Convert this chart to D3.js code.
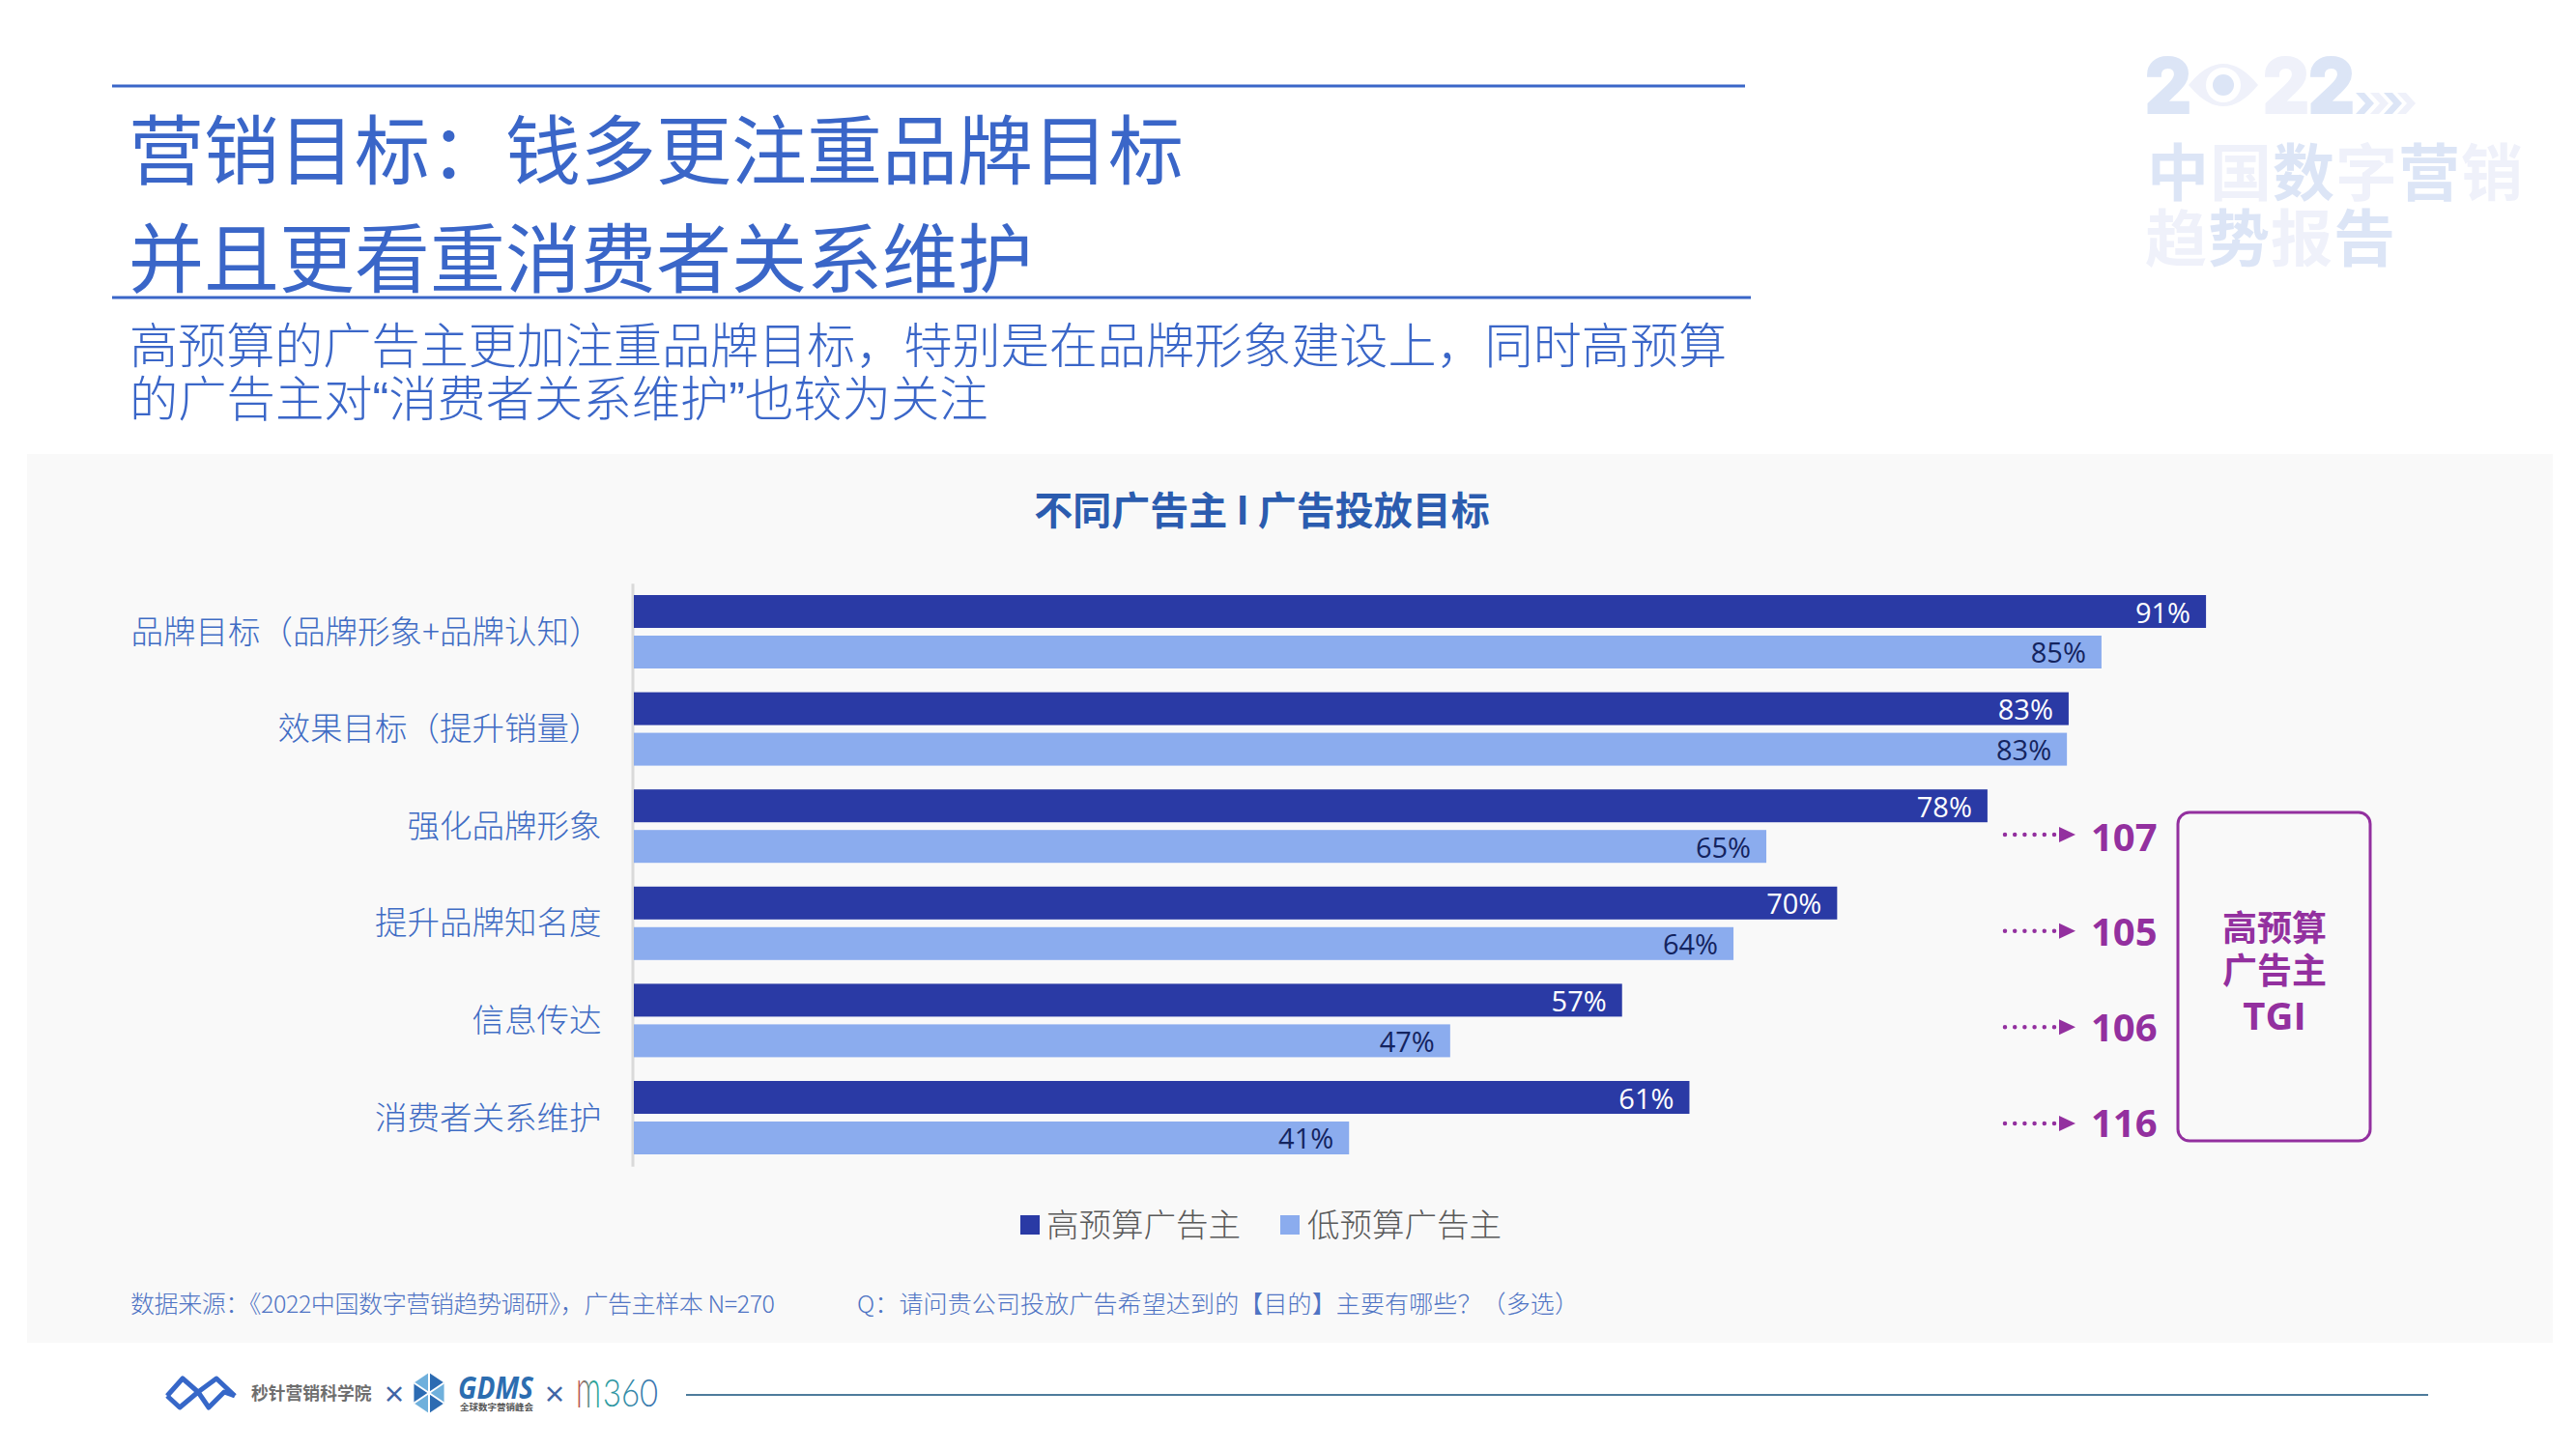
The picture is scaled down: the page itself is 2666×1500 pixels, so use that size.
<!DOCTYPE html>
<html><head><meta charset="utf-8">
<script src="https://cdn.jsdelivr.net/npm/d3@7/dist/d3.min.js"></script>
<style>
html,body{margin:0;padding:0;background:#fff}
svg{display:block}
text{font-family:"Noto Sans CJK SC","Noto Sans",sans-serif}
</style></head><body><svg id="c" width="2666" height="1500"></svg>
<script>
const categories=["品牌目标（品牌形象+品牌认知）","效果目标（提升销量）","强化品牌形象","提升品牌知名度","信息传达","消费者关系维护"];
const seriesNames=["高预算广告主","低预算广告主"];
const highValues=[91,83.05,78.35,69.65,57.2,61.1];
const lowValues=[84.95,82.95,65.55,63.65,47.25,41.4];
const highLabels=["91%","83%","78%","70%","57%","61%"];
const lowLabels=["85%","83%","65%","64%","47%","41%"];
const tgiCategories=["强化品牌形象","提升品牌知名度","信息传达","消费者关系维护"];
const tgiValues=[107,105,106,116];
const colors=["#2A3AA5","#8BACEE"];
const titleBlue="#3A66C8", purple="#93309F";

const svg=d3.select("#c");
const T=(x,y,s,size,fill,o={})=>svg.append("text").attr("x",x).attr("y",y).text(s)
  .attr("font-size",size).attr("fill",fill).attr("text-anchor",o.anchor||"start")
  .attr("font-weight",o.weight||400).attr("dominant-baseline","central")
  .attr("font-style",o.style||null).attr("stroke",o.stroke?fill:null).attr("stroke-width",o.stroke||null)
  .style("font-family",o.font||null).attr("textLength",o.len||null).attr("lengthAdjust",o.adj||null);

// panel
svg.append("rect").attr("x",28).attr("y",470).attr("width",2614).attr("height",920).attr("fill","#F9F9F9");

// header
[[116,1806,89],[116,1812,308]].forEach(l=>svg.append("line").attr("x1",l[0]).attr("x2",l[1]).attr("y1",l[2]).attr("y2",l[2]).attr("stroke",titleBlue).attr("stroke-width",3));
T(133,151,"营销目标：钱多更注重品牌目标",78,titleBlue);
T(133,263,"并且更看重消费者关系维护",78,titleBlue);
const mixed="'Liberation Sans','Noto Sans CJK SC'";
T(134,354,"高预算的广告主更加注重品牌目标，特别是在品牌形象建设上，同时高预算",50.1,titleBlue,{weight:300});
T(134,413,"的广告主对“消费者关系维护”也较为关注",50.3,titleBlue,{weight:300,font:mixed});

// watermark
const wm1="#DCE5F6", wm2="#EFF1FA";
T(2220,88,"2",76,wm1,{weight:700,font:"Inter",stroke:4});
svg.append("path").attr("d","M2265 88Q2301 44 2337 88Q2301 132 2265 88Z").attr("fill",wm2);
svg.append("circle").attr("cx",2301).attr("cy",88).attr("r",18).attr("fill","#fff");
svg.append("circle").attr("cx",2301).attr("cy",88).attr("r",11).attr("fill",wm1);
T(2342,88,"2",76,wm2,{weight:700,font:"Inter",stroke:4});
T(2389,88,"2",76,wm1,{weight:700,font:"Inter",stroke:4});
[2438,2453,2467,2481].forEach((x,i)=>svg.append("path").attr("d",`M${x} 96l9 0l10 11l-10 11l-9 0l10 -11Z`).attr("fill",i%2?wm2:wm1));
"中国数字营销".split("").forEach((c,i)=>T(2222+i*65,174,c,64,i%2?wm2:wm1,{weight:700}));
"趋势报告".split("").forEach((c,i)=>T(2220+i*65,242,c,64,i%2?wm1:wm2,{weight:700}));

// chart title
T(1306,526,"不同广告主 I 广告投放目标",40,"#2B5CAF",{weight:700,anchor:"middle"});

// scales
const x=d3.scaleLinear().domain([0,100]).range([656,2444]);
const y=d3.scaleBand().domain(categories).range([603.7,1207.3]).paddingInner(0.2445).paddingOuter(0.12225);
const y1=d3.scaleBand().domain(seriesNames).range([0,y.bandwidth()]).paddingInner(0.19);
const ax=d3.axisLeft(y).tickSize(0).tickPadding(32);
const axG=svg.append("g").attr("transform","translate(654.5,0)").call(ax);
axG.select(".domain").attr("stroke","#DADADA").attr("stroke-width",3);
axG.selectAll("text").attr("font-size",33.5).attr("fill","#3F6CC4").attr("font-weight",300).attr("dy",-3).attr("dominant-baseline","central")
  .style("font-family","'Noto Sans CJK SC'");

const rows=categories.map((c,i)=>({c,v:[highValues[i],lowValues[i]],l:[highLabels[i],lowLabels[i]]}));
const g=svg.selectAll("g.row").data(rows).join("g").attr("class","row").attr("transform",d=>`translate(0,${y(d.c)})`);
g.selectAll("rect").data(d=>seriesNames.map((s,i)=>({s,i,v:d.v[i]}))).join("rect")
  .attr("x",x(0)).attr("y",d=>y1(d.s)).attr("width",d=>x(d.v)-x(0)).attr("height",y1.bandwidth()).attr("fill",d=>colors[d.i]);
g.selectAll("text").data(d=>seriesNames.map((s,i)=>({s,i,v:d.v[i],l:d.l[i]}))).join("text")
  .attr("x",d=>x(d.v)-16).attr("y",d=>y1(d.s)+y1.bandwidth()/2).attr("text-anchor","end").attr("dominant-baseline","central")
  .attr("font-size",29).attr("fill",d=>d.i?"#14245F":"#FFFFFF").style("font-family","'Open Sans'").text(d=>d.l);

// TGI
const tgiY=d3.scalePoint().domain(tgiCategories).range([864,1163]);
const tgiNumY=d3.scalePoint().domain(tgiCategories).range([865,1161]);
tgiCategories.forEach((c,i)=>{
  const yy=tgiY(c);
  svg.append("line").attr("x1",2075).attr("x2",2130).attr("y1",yy).attr("y2",yy).attr("stroke",purple).attr("stroke-width",4.5)
    .attr("stroke-linecap","round").attr("stroke-dasharray","0 10.2");
  svg.append("path").attr("d",`M2131 ${yy-8}L2148 ${yy}L2131 ${yy+8}Z`).attr("fill",purple);
  T(2164,tgiNumY(c),tgiValues[i],40,purple,{weight:700,font:"'Open Sans'"});
});
svg.append("rect").attr("x",2254).attr("y",841).attr("width",199).attr("height",340).attr("rx",12).attr("fill","none").attr("stroke",purple).attr("stroke-width",3);
T(2354,958,"高预算",36,purple,{weight:700,anchor:"middle"});
T(2354,1002,"广告主",36,purple,{weight:700,anchor:"middle"});
T(2354,1050,"TGI",40,purple,{weight:700,anchor:"middle",font:"'Open Sans'"});

// legend
svg.append("rect").attr("x",1056).attr("y",1258).attr("width",20).attr("height",20).attr("fill",colors[0]);
T(1083,1265,seriesNames[0],33.5,"#5A5A5A",{weight:300});
svg.append("rect").attr("x",1325).attr("y",1258).attr("width",20).attr("height",20).attr("fill",colors[1]);
T(1353,1265,seriesNames[1],33.5,"#5A5A5A",{weight:300});

// source
T(135,1348,"数据来源：《2022中国数字营销趋势调研》，广告主样本 N=270",25,"#4F74C4",{weight:300,len:667});
T(887,1348,"Q：请问贵公司投放广告希望达到的【目的】主要有哪些？（多选）",25,"#4F74C4",{weight:300,len:747});

// footer
svg.append("line").attr("x1",710).attr("x2",2513).attr("y1",1444).attr("y2",1444).attr("stroke","#4E7C9C").attr("stroke-width",2);
const logoLine=d3.line();
[[[173,1445],[189,1427],[205,1441],[224,1427],[243,1445]],[[173,1445],[186,1457],[205,1441],[216,1457],[232,1441],[243,1445]]]
  .forEach(p=>svg.append("path").attr("d",logoLine(p)).attr("fill","none").attr("stroke","#3667C8").attr("stroke-width",5).attr("stroke-linejoin","round"));
T(260,1441,"秒针营销科学院",17.8,"#6E6E6E",{weight:700});
T(396,1441,"×",24,"#3F66A6",{weight:700});
const hex=d3.range(6).map(i=>[444+18*Math.sin(i*Math.PI/3),1442+21*Math.cos(i*Math.PI/3)]);
hex.forEach((p,i)=>{const q=hex[(i+1)%6];svg.append("polygon").attr("points",[[444,1442],p,q].join(" ")).attr("fill",i%2?"#6FB0DC":"#2C6BB2");});
d3.range(3).forEach(i=>svg.append("line").attr("x1",hex[i][0]).attr("y1",hex[i][1]).attr("x2",hex[i+3][0]).attr("y2",hex[i+3][1]).attr("stroke","#fff").attr("stroke-width",2));
T(474,1435,"GDMS",33,"#2C6DB0",{weight:700,font:"'Open Sans'",len:78,adj:"spacingAndGlyphs",style:"italic"});
T(476,1456,"全球数字营销峰会",9.5,"#555",{weight:700});
T(562,1441,"×",24,"#3F66A6",{weight:700});
const grad=svg.append("defs").append("linearGradient").attr("id","m").attr("gradientUnits","userSpaceOnUse").attr("x1",598).attr("x2",681).attr("y1",0).attr("y2",0);
grad.append("stop").attr("offset","0").attr("stop-color","#C2504F");
grad.append("stop").attr("offset",".2").attr("stop-color","#2AA69A");
grad.append("stop").attr("offset","1").attr("stop-color","#3B6FB0");
T(596,1435,"m",56,"url(#m)",{font:"Lato",len:26,adj:"spacingAndGlyphs",weight:300});
T(624,1441,"360",40,"url(#m)",{font:"Lato",len:57,adj:"spacingAndGlyphs",weight:300});
</script></body></html>
